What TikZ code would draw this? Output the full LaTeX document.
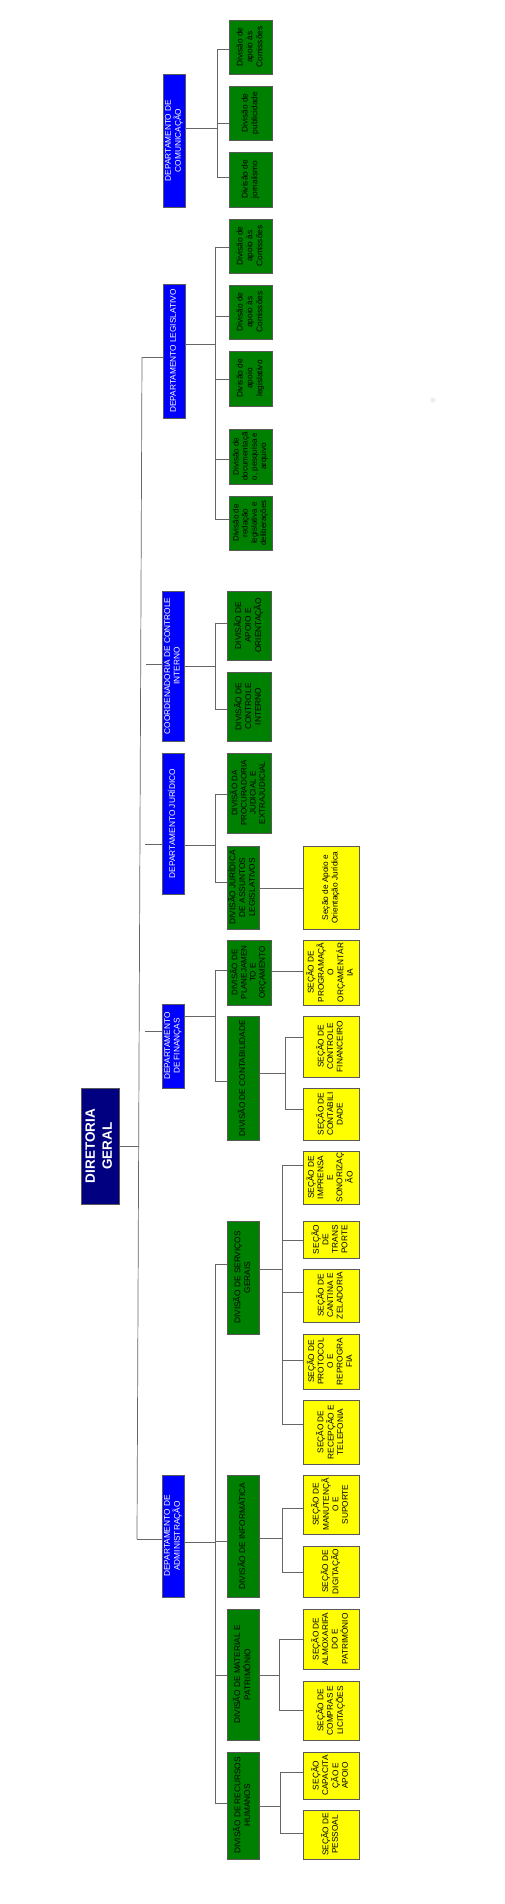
\documentclass[tikz,border=0pt]{standalone}
\usepackage{fontspec}
\setmainfont{Liberation Sans}
\usepackage{graphicx}
\definecolor{deptblue}{RGB}{0,0,255}
\definecolor{dgnavy}{RGB}{0,0,128}
\definecolor{divgreen}{RGB}{0,128,0}
\definecolor{secyellow}{RGB}{255,255,0}
\tikzset{
  basebox/.style={draw=black!65, line width=0.6pt, inner sep=0pt, outer sep=0pt, rectangle},
  deptbox/.style={basebox, fill=deptblue, text=white, font=\fontsize{8.3}{9.4}\selectfont},
  topbox/.style={basebox, fill=dgnavy, text=white, font=\fontsize{13.5}{17}\selectfont\bfseries},
  divbox/.style={basebox, fill=divgreen, text=black, font=\fontsize{8.3}{9.8}\selectfont},
  smalldiv/.style={basebox, fill=divgreen, text=black, font=\fontsize{8}{9.2}\selectfont},
  secbox/.style={basebox, fill=secyellow, text=black, font=\fontsize{8.3}{9.5}\selectfont},
  conn/.style={draw=black!60, line width=0.7pt}
}
\newcommand\orgbox[7]{%
  \node[#2, minimum width={(#5-#3)*1pt}, minimum height={(#6-#4)*1pt}] (#1) at ({(#3+#5)/2},{(#4+#6)/2}) {\rotatebox{90}{\begin{tabular}{@{}c@{}}#7\end{tabular}}};}
\newcommand\orgbus[6]{%
  \coordinate (#1-s) at (#2,#3);
  \coordinate (#1-t) at (#2,#4);
  \coordinate (#1-u) at (#2,#5);
  \draw[conn] (#1.east |- #1-s) -- (#1-s);
  \draw[conn] (#1-t) -- (#1-u);
  \foreach \ch/\yy in {#6}{\coordinate (#1-\ch) at (#2,\yy); \draw[conn] (#1-\ch) -- (\ch.west |- #1-\ch);}%
}
\begin{document}
\begin{tikzpicture}[x=1pt,y=-1pt]
\useasboundingbox (0,0) rectangle (505,1904);
\fill[white] (0,0) rectangle (505,1904);
\fill[black!7] (433,400) circle (2.5);

% Diretoria
\orgbox{dg}{topbox}{81}{1088}{119}{1204}{DIRETORIA\\GERAL}

% Departments
\orgbox{dcom}{deptbox}{163}{74}{185}{207}{DEPARTAMENTO DE\\COMUNICAÇÃO}
\orgbox{dleg}{deptbox}{163}{284}{185}{418}{DEPARTAMENTO LEGISLATIVO}
\orgbox{dcoo}{deptbox}{162}{591}{184}{741}{COORDENADORIA DE CONTROLE\\INTERNO}
\orgbox{djur}{deptbox}{162}{753}{184}{894}{DEPARTAMENTO JURÍDICO}
\orgbox{dfin}{deptbox}{162}{1004}{184}{1088}{DEPARTAMENTO\\DE FINANÇAS}
\orgbox{dadm}{deptbox}{162}{1475}{184}{1597}{DEPARTAMENTO DE\\ADMINISTRAÇÃO}

% Comunicacao divisions
\orgbox{com1}{divbox}{229}{20}{272}{74}{Divisão de\\apoio às\\Comissões}
\orgbox{com2}{divbox}{229}{86}{272}{140}{Divisão de\\publicidade}
\orgbox{com3}{divbox}{229}{152}{272}{207}{Divisão de\\jornalismo}

% Legislativo divisions
\orgbox{leg1}{divbox}{229}{219}{272}{273}{Divisão de\\apoio às\\Comissões}
\orgbox{leg2}{divbox}{229}{285}{272}{339}{Divisão de\\apoio às\\Comissões}
\orgbox{leg3}{divbox}{229}{351}{272}{406}{Divisão de\\apoio\\legislativo}
\orgbox{leg4}{smalldiv}{229}{429}{272}{484}{Divisão de\\documentaçã\\o, pesquisa e\\arquivo}
\orgbox{leg5}{smalldiv}{229}{496}{272}{550}{Divisão de\\redação\\legislativa e\\deliberações}

% Coordenadoria
\orgbox{coo1}{divbox}{227}{591}{271}{660}{DIVISÃO DE\\APOIO E\\ORIENTAÇÃO}
\orgbox{coo2}{divbox}{227}{672}{271}{741}{DIVISÃO DE\\CONTROLE\\INTERNO}

% Juridico
\orgbox{jur1}{smalldiv}{227}{753}{271}{833}{DIVISÃO DA\\PROCURADORIA\\JUDICIAL E\\EXTRAJUDICIAL}
\orgbox{jur2}{divbox}{227}{846}{259}{929}{DIVISÃO JURÍDICA\\DE ASSUNTOS\\LEGISLATIVOS}
\orgbox{ysj}{secbox}{303}{846}{359}{929}{Seção de Apoio e\\Orientação Jurídica}

% Financas
\orgbox{fin1}{smalldiv}{227}{940}{271}{1005}{DIVISÃO DE\\PLANEJAMEN\\TO E\\ORÇAMENTO}
\orgbox{fin2}{divbox}{227}{1016}{259}{1140}{DIVISÃO DE CONTABILIDADE}
\orgbox{yprog}{secbox}{303}{940}{359}{1005}{SEÇÃO DE\\PROGRAMAÇÃ\\O\\ORÇAMENTÁR\\IA}
\orgbox{ycf}{secbox}{303}{1016}{359}{1077}{SEÇÃO DE\\CONTROLE\\FINANCEIRO}
\orgbox{ycont}{secbox}{303}{1088}{359}{1140}{SEÇÃO DE\\CONTABILI\\DADE}

% Administracao
\orgbox{adm1}{divbox}{227}{1221}{259}{1334}{DIVISÃO DE SERVIÇOS\\GERAIS}
\orgbox{adm2}{divbox}{227}{1475}{259}{1597}{DIVISÃO DE INFORMÁTICA}
\orgbox{adm3}{divbox}{227}{1609}{259}{1740}{DIVISÃO DE MATERIAL E\\PATRIMÔNIO}
\orgbox{adm4}{divbox}{227}{1752}{259}{1859}{DIVISÃO DE RECURSOS\\HUMANOS}

\orgbox{yimp}{secbox}{303}{1151}{359}{1204}{SEÇÃO DE\\IMPRENSA\\E\\SONORIZAÇ\\ÃO}
\orgbox{ytra}{secbox}{303}{1221}{359}{1258}{SEÇÃO\\DE\\TRANS\\PORTE}
\orgbox{ycan}{secbox}{303}{1269}{359}{1322}{SEÇÃO DE\\CANTINA E\\ZELADORIA}
\orgbox{ypro}{secbox}{303}{1334}{359}{1389}{SEÇÃO DE\\PROTOCOL\\O E\\REPROGRA\\FIA}
\orgbox{yrec}{secbox}{303}{1400}{359}{1464}{SEÇÃO DE\\RECEPÇÃO E\\TELEFONIA}
\orgbox{yman}{secbox}{303}{1475}{359}{1534}{SEÇÃO DE\\MANUTENÇÃ\\O E\\SUPORTE}
\orgbox{ydig}{secbox}{303}{1546}{359}{1597}{SEÇÃO DE\\DIGITAÇÃO}
\orgbox{yalm}{secbox}{303}{1609}{359}{1669}{SEÇÃO DE\\ALMOXARIFA\\DO E\\PATRIMÔNIO}
\orgbox{ycom}{secbox}{303}{1681}{359}{1740}{SEÇÃO DE\\COMPRAS E\\LICITAÇÕES}
\orgbox{ycap}{secbox}{303}{1752}{359}{1799}{SEÇÃO\\CAPACITA\\ÇÃO E\\APOIO}
\orgbox{ypes}{secbox}{303}{1810}{359}{1859}{SEÇÃO DE\\PESSOAL}

% Trunk
\coordinate (trT) at (142,357);
\coordinate (trB) at (137,1539);
\coordinate (tdg) at (139,1146);
\coordinate (tcoo) at (146,664);
\coordinate (tjur) at (145,844);
\coordinate (tfin) at (145,1031);
\draw[conn] (trT) -- (trB);
\draw[conn] (trT) -- (dleg.west |- trT);
\draw[conn] (trB) -- (dadm.west |- trB);
\draw[conn] (dg.east |- tdg) -- (tdg);
\draw[conn] (tcoo) -- (dcoo.west |- tcoo);
\draw[conn] (tjur) -- (djur.west |- tjur);
\draw[conn] (tfin) -- (dfin.west |- tfin);

% Buses
\orgbus{dcom}{217}{128}{49}{177}{com1/49,com2/123,com3/177}
\orgbus{dleg}{215}{344}{247}{519}{leg1/247,leg2/316,leg3/379,leg4/459,leg5/519}
\orgbus{dcoo}{215}{666}{623}{709}{coo1/623,coo2/709}
\orgbus{djur}{215}{845}{794}{882}{jur1/794,jur2/882}
\orgbus{dfin}{215}{1016}{970}{1081}{fin1/970,fin2/1081}
\orgbus{dadm}{215}{1542}{1264}{1803}{adm1/1264,adm2/1541,adm3/1675,adm4/1803}
\orgbus{fin2}{285}{1073}{1037}{1109}{ycf/1037,ycont/1109}
\orgbus{adm1}{282}{1269}{1165}{1424}{yimp/1165,ytra/1240,ycan/1292,ypro/1360,yrec/1424}
\orgbus{adm2}{282}{1538}{1508}{1572}{yman/1508,ydig/1572}
\orgbus{adm3}{279}{1675}{1639}{1710}{yalm/1639,ycom/1710}
\orgbus{adm4}{280}{1806}{1772}{1833}{ycap/1772,ypes/1833}

% Single links
\coordinate (jurY) at (303,888);
\draw[conn] (jur2.east |- jurY) -- (ysj.west |- jurY);
\coordinate (finY) at (303,971);
\draw[conn] (fin1.east |- finY) -- (yprog.west |- finY);
\end{tikzpicture}
\end{document}
